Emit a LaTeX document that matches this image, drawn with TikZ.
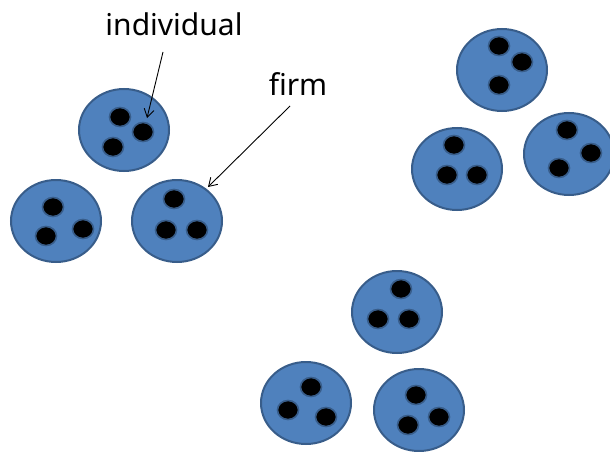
\documentclass[tikz,border=0pt]{standalone}
\usepackage{fontspec}
\setmainfont{Noto Sans}
\usetikzlibrary{shapes.geometric,arrows.meta}
\definecolor{firmfill}{HTML}{4F81BD}
\definecolor{firmline}{HTML}{385D8A}
\tikzset{
  firm/.style={ellipse, draw=firmline, fill=firmfill, line width=2pt, minimum width=90pt, minimum height=82pt, inner sep=0pt},
  indiv/.style={ellipse, draw=firmline, fill=black, line width=1.6pt, minimum width=21pt, minimum height=19pt, inner sep=0pt},
  lbl/.style={font=\fontsize{30}{33}\selectfont, inner sep=0pt},
  pointer/.style={-{Straight Barb[length=8pt,width=10pt]}, line width=0.9pt}
}
\begin{document}
\begin{tikzpicture}[x=1pt,y=-1pt]
\useasboundingbox (0,0) rectangle (610,452);
% group 1
\node[firm] (A) at (124,130) {};
\node[indiv] (a1) at (120,117) {};
\node[indiv] (a2) at (143,132) {};
\node[indiv] (a3) at (113,147) {};
\node[firm] (B) at (56,221) {};
\node[indiv] (b1) at (53,207) {};
\node[indiv] (b2) at (46,236) {};
\node[indiv] (b3) at (83,229) {};
\node[firm] (C) at (177,221) {};
\node[indiv] (c1) at (174,199) {};
\node[indiv] (c2) at (166,230) {};
\node[indiv] (c3) at (197,230) {};
% group 2
\node[firm] (D) at (502,70) {};
\node[indiv] (d1) at (499,46) {};
\node[indiv] (d2) at (522,62) {};
\node[indiv] (d3) at (499,85) {};
\node[firm] (E) at (457,169) {};
\node[indiv] (e1) at (454,145) {};
\node[indiv] (e2) at (447,175) {};
\node[indiv] (e3) at (477,175) {};
\node[firm] (F) at (569,154) {};
\node[indiv] (f1) at (567,130) {};
\node[indiv] (f2) at (591,153) {};
\node[indiv] (f3) at (559,168) {};
% group 3
\node[firm] (G) at (397,312) {};
\node[indiv] (g1) at (401,289) {};
\node[indiv] (g2) at (378,319) {};
\node[indiv] (g3) at (409,319) {};
\node[firm] (H) at (306,403) {};
\node[indiv] (h1) at (311,387) {};
\node[indiv] (h2) at (288,410) {};
\node[indiv] (h3) at (326,417) {};
\node[firm] (I) at (419,410) {};
\node[indiv] (i1) at (416,395) {};
\node[indiv] (i2) at (439,417) {};
\node[indiv] (i3) at (408,425) {};
% labels
\node[lbl] (tind) at (174,24) {individual};
\node[lbl] (tfirm) at (298,84) {firm};
\coordinate (tindend) at (163,52);
\coordinate (tfirmend) at (290,106);
\coordinate (ptind) at (147,118);
\coordinate (ptfirm) at (208,187);
\draw[pointer] (tindend) -- (ptind);
\draw[pointer] (tfirmend) -- (ptfirm);
\end{tikzpicture}
\end{document}
